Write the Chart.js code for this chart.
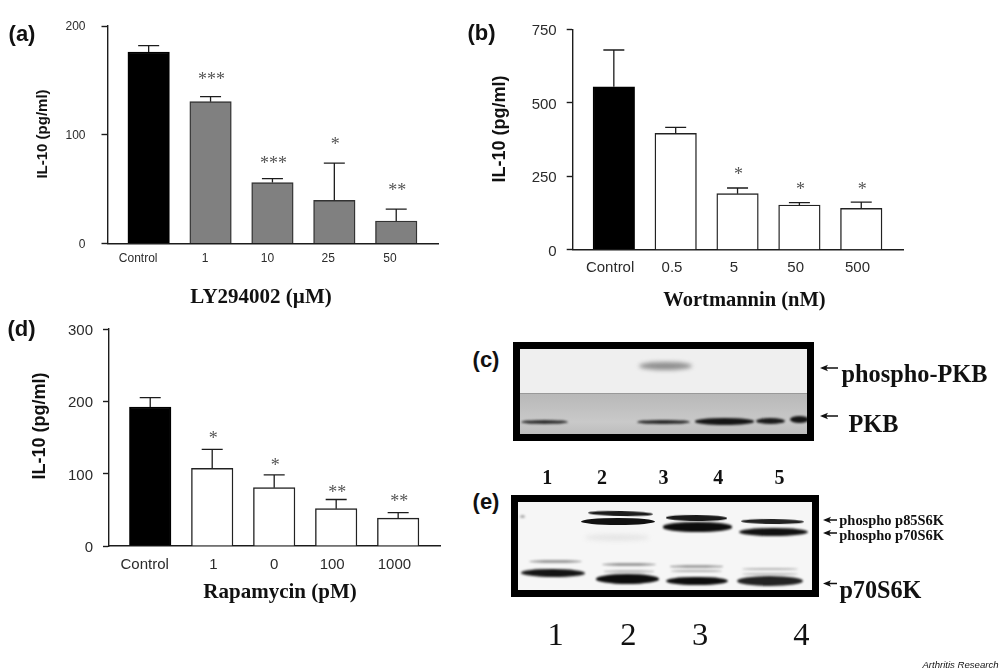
<!DOCTYPE html>
<html><head><meta charset="utf-8">
<script src="https://cdn.jsdelivr.net/npm/chart.js@4"></script>
<style>
html,body{margin:0;padding:0;background:#fff;width:1000px;height:670px;overflow:hidden}
#stage{position:relative;width:1000px;height:670px;overflow:hidden}
canvas{position:absolute}
.t{position:absolute;white-space:nowrap;line-height:1;color:#111}
.sans{font-family:"Liberation Sans",Arial,sans-serif;font-weight:700}
.serif{font-family:"Liberation Serif","Times New Roman",serif;font-weight:700}
.band{position:absolute;border-radius:50%}
.box{position:absolute;box-sizing:border-box;border:7px solid #000;overflow:hidden;background:#f4f4f4}
</style></head>
<body><div id="stage"></div>
<script>
// Panel (a)
const aLabels = ['Control', '1', '10', '25', '50'];
const aMeans = [176, 130.4, 56, 39.7, 20.7];
const aErrors = [6, 4.6, 3.6, 34.3, 11];
const aStars = ['', '***', '***', '*', '**'];
const aStarAt = [null, 152.5, 76, 92.7, 50.8];
const aTicks = [0, 100, 200];
// Panel (b)
const bLabels = ['Control', '0.5', '5', '50', '500'];
const bMeans = [554.6, 396, 190.6, 152, 140.8];
const bErrors = [125, 20, 19.4, 8, 21];
const bStars = ['', '', '*', '*', '*'];
const bStarAt = [null, null, 262, 214, 214];
const bTicks = [0, 250, 500, 750];
// Panel (d)
const dLabels = ['Control', '1', '0', '100', '1000'];
const dMeans = [192, 107.4, 80.6, 51.6, 38.5];
const dErrors = [13, 26.3, 17.7, 12.7, 7.7];
const dStars = ['', '*', '*', '**', '**'];
const dStarAt = [null, 152, 114.6, 77.5, 64.8];
const dTicks = [0, 100, 200, 300];

const stage = document.getElementById('stage');
const INK = '#1c1c1c';

const marksPlugin = {
  id: 'marks',
  afterDatasetsDraw(chart, args, opts) {
    const {ctx, scales: {x, y}} = chart;
    ctx.save();
    ctx.strokeStyle = INK;
    ctx.lineWidth = 1.3;
    opts.means.forEach((m, i) => {
      const px = x.getPixelForValue(i);
      const y0 = y.getPixelForValue(m);
      const y1 = y.getPixelForValue(m + opts.errors[i]);
      ctx.beginPath();
      ctx.moveTo(px, y0); ctx.lineTo(px, y1);
      ctx.moveTo(px - 10.5, y1); ctx.lineTo(px + 10.5, y1);
      ctx.stroke();
      if (opts.starAt[i] !== null) {
        ctx.fillStyle = '#555';
        ctx.font = '18px "Liberation Serif"';
        ctx.textAlign = 'center';
        ctx.textBaseline = 'middle';
        ctx.fillText(opts.stars[i], px + opts.starDx, y.getPixelForValue(opts.starAt[i]) + 3);
      }
    });
    ctx.restore();
  }
};

function panel(cfg) {
  const c = document.createElement('canvas');
  c.width = cfg.box[2]; c.height = cfg.box[3];
  c.style.left = cfg.box[0] + 'px'; c.style.top = cfg.box[1] + 'px';
  c.style.width = cfg.box[2] + 'px'; c.style.height = cfg.box[3] + 'px';
  stage.appendChild(c);
  new Chart(c, {
    type: 'bar',
    data: { datasets: [{
      data: cfg.means.map((v, i) => ({x: i, y: v})),
      backgroundColor: cfg.means.map((v, i) => i === 0 ? '#000' : cfg.fill),
      borderColor: cfg.means.map((v, i) => i === 0 ? '#000' : cfg.edge),
      borderWidth: 1.4,
      barThickness: 41.5
    }]},
    options: {
      responsive: false, animation: false, devicePixelRatio: 1,
      layout: { padding: {left: 0, bottom: 0, top: cfg.top, right: cfg.right} },
      plugins: {
        legend: {display: false}, tooltip: {enabled: false},
        marks: {means: cfg.means, errors: cfg.errors, stars: cfg.stars, starAt: cfg.starAt, starDx: 1}
      },
      scales: {
        x: {
          type: 'linear', min: -0.665, max: 4.675, offset: false,
          afterFit: s => { s.height = cfg.bottom; },
          afterBuildTicks: s => { s.ticks = cfg.labelAt.map((v, i) => ({value: i + v})); },
          grid: {display: false, drawTicks: false, offset: false},
          border: {display: true, color: INK, width: 1.4},
          ticks: {
            autoSkip: false, maxRotation: 0, padding: cfg.xPad, color: '#2b2b2b',
            font: {family: '"Liberation Sans"', size: cfg.fs},
            callback: (v, i) => cfg.labels[i]
          }
        },
        y: {
          min: cfg.ticks[0], max: cfg.ticks[cfg.ticks.length - 1],
          afterFit: s => { s.width = cfg.left; },
          afterBuildTicks: s => { s.ticks = cfg.ticks.map(v => ({value: v})); },
          grid: {drawOnChartArea: false, drawTicks: true, tickLength: 6, tickColor: INK, tickWidth: 1.4},
          border: {display: true, color: INK, width: 1.4},
          ticks: {
            padding: cfg.yPad, labelOffset: cfg.yOff, color: '#2b2b2b',
            font: {family: '"Liberation Sans"', size: cfg.fs}
          }
        }
      }
    },
    plugins: [marksPlugin]
  });
}

panel({
  box: [0, 0, 450, 290], left: 107.5, top: 26, right: 12, bottom: 46.5,
  labels: aLabels, means: aMeans, errors: aErrors, stars: aStars, starAt: aStarAt, ticks: aTicks,
  labelAt: [-0.17, -0.09, -0.08, -0.1, -0.1],
  fill: '#808080', edge: '#333', fs: 12, xPad: 8, yPad: 16, yOff: 1
});
panel({
  box: [460, 10, 460, 280], left: 112.7, top: 19.3, right: 17, bottom: 40.3,
  labels: bLabels, means: bMeans, errors: bErrors, stars: bStars, starAt: bStarAt, ticks: bTicks,
  labelAt: [-0.06, -0.06, -0.06, -0.06, -0.06],
  fill: '#fff', edge: '#222', fs: 15, xPad: 9, yPad: 10, yOff: 2
});
panel({
  box: [0, 310, 450, 280], left: 109, top: 15.3, right: 10, bottom: 44,
  labels: dLabels, means: dMeans, errors: dErrors, stars: dStars, starAt: dStarAt, ticks: dTicks,
  labelAt: [-0.09, 0.02, 0, -0.065, -0.06],
  fill: '#fff', edge: '#222', fs: 15, xPad: 10, yPad: 10, yOff: 2
});

function text(str, x, y, cls, size, extra) {
  const s = document.createElement('div');
  s.className = 't ' + cls;
  s.textContent = str;
  s.style.left = x + 'px'; s.style.top = y + 'px';
  s.style.fontSize = size + 'px';
  s.style.transform = 'translate(-50%,-50%)' + ((extra && extra.rotate) ? ' rotate(-90deg)' : '');
  if (extra && extra.weight) s.style.fontWeight = extra.weight;
  if (extra && extra.italic) s.style.fontStyle = 'italic';
  if (extra && extra.color) s.style.color = extra.color;
  stage.appendChild(s);
}

// panel letters
text('(a)', 22, 34, 'sans', 22);
text('(b)', 481.5, 33, 'sans', 22);
text('(d)', 21.5, 329, 'sans', 22);
text('(c)', 486, 360, 'sans', 22);
text('(e)', 486, 502, 'sans', 22);

// axis titles
text('IL-10 (pg/ml)', 41, 134, 'sans', 15, {rotate: true});
text('IL-10 (pg/ml)', 499, 129, 'sans', 18, {rotate: true});
text('IL-10 (pg/ml)', 38.5, 425.5, 'sans', 18, {rotate: true});
text('LY294002 (\u00b5M)', 261, 296, 'serif', 21);
text('Wortmannin (nM)', 744.5, 299, 'serif', 20.5);
text('Rapamycin (pM)', 280, 591, 'serif', 21);

// blots (photographic insets, not chart marks)
function blot(x, y, w, h, bg) {
  const b = document.createElement('div');
  b.className = 'box';
  b.style.cssText = `left:${x}px;top:${y}px;width:${w}px;height:${h}px;background:${bg}`;
  stage.appendChild(b);
  return {el: b, ox: x + 7, oy: y + 7};
}
function band(b, x1, x2, yc, h, color, blur, rot) {
  const d = document.createElement('div');
  d.className = 'band';
  d.style.cssText = `left:${x1 - b.ox}px;top:${yc - h / 2 - b.oy}px;width:${x2 - x1}px;height:${h}px;` +
    `background:${color};filter:blur(${blur}px);transform:rotate(${rot || 0}deg)`;
  b.el.appendChild(d);
}
const c = blot(513, 342, 301, 99, '#efefef');
const lower = document.createElement('div');
lower.style.cssText = 'position:absolute;left:0;right:0;top:44px;bottom:0;background:linear-gradient(#b8b8b8,#c9c9c9 70%,#bdbdbd);border-top:1px solid #999';
c.el.appendChild(lower);
band(c, 639, 691.5, 365.5, 8, '#8f8f8f', 2);
band(c, 521, 568, 422, 4, '#2f2f2f', 1);
band(c, 636.5, 690, 422, 4.5, '#2a2a2a', 1);
band(c, 695, 754, 421.5, 6.5, '#151515', 1);
band(c, 755.5, 784.5, 421, 6, '#1a1a1a', 1);
band(c, 789.5, 809, 419.5, 7, '#151515', 1);

const e = blot(511, 495, 308, 102, '#f6f6f6');
const zx = v => 460 + v / 2.958, zy = v => 455 + v / 2.958;
function zb(x1, x2, y, h, col, blur, rot) { band(e, zx(x1), zx(x2), zy(y), h / 2.958, col, blur, rot); }
zb(380, 572, 174, 15, '#1c1c1c', .7, 1.2);
zb(358, 578, 198, 21, '#111', .7);
zb(610, 790, 187, 17, '#1a1a1a', .7, .6);
zb(600, 805, 213, 27, '#0c0c0c', .8);
zb(830, 1015, 198, 15, '#222', .7, .6);
zb(825, 1030, 227, 24, '#111', .8);
zb(370, 560, 245, 20, '#e6e6e6', 2);
zb(205, 360, 315, 9, '#9a9a9a', .9);
zb(180, 370, 350, 23, '#141414', .9, .5);
zb(420, 580, 323, 9, '#999', .9);
zb(425, 575, 345, 8, '#bdbdbd', .9);
zb(403, 590, 367, 28, '#0d0d0d', .9);
zb(622, 778, 330, 8, '#a0a0a0', .9);
zb(625, 775, 343, 8, '#b0b0b0', .9);
zb(608, 792, 373, 26, '#0d0d0d', .9);
zb(835, 1000, 337, 8, '#b5b5b5', .9);
zb(835, 1000, 352, 8, '#bbb', .9);
zb(820, 1015, 372, 30, '#232323', 1);
zb(178, 240, 401, 6, '#333', .6);
zb(178, 192, 183, 9, '#aaa', 1);

// arrows
const NS = 'http://www.w3.org/2000/svg';
const svg = document.createElementNS(NS, 'svg');
svg.setAttribute('width', 1000); svg.setAttribute('height', 670);
svg.style.cssText = 'position:absolute;left:0;top:0';
stage.appendChild(svg);
function arrow(x1, x2, y) {
  const p = document.createElementNS(NS, 'polygon');
  p.setAttribute('points', `${x1},${y} ${x1 + 8},${y - 3.2} ${x1 + 6.5},${y - .8} ${x2},${y - .8} ${x2},${y + .8} ${x1 + 6.5},${y + .8} ${x1 + 8},${y + 3.2}`);
  p.setAttribute('fill', '#111');
  svg.appendChild(p);
}
arrow(820, 838, 368);
arrow(820, 838, 416);
arrow(823, 837, 520);
arrow(823, 837, 533);
arrow(823, 837, 583.5);

// blot labels
text('phospho-PKB', 914.5, 374, 'serif', 24.3);
text('PKB', 873.5, 423.5, 'serif', 24.3);
text('phospho p85S6K', 891.7, 520, 'serif', 14.45);
text('phospho p70S6K', 891.7, 535, 'serif', 14.45);
text('p70S6K', 880.4, 590, 'serif', 24.2);

[['1', 547.2], ['2', 602], ['3', 663.5], ['4', 718.3], ['5', 779.5]].forEach(p => text(p[0], p[1], 476.5, 'serif', 20));
[['1', 555.7], ['2', 628.4], ['3', 700], ['4', 801.4]].forEach(p => text(p[0], p[1], 634, 'serif', 32.5, {weight: 400}));

text('Arthritis Research', 960.5, 665, 'sans', 9.6, {weight: 400, italic: true});
</script>
</body></html>
